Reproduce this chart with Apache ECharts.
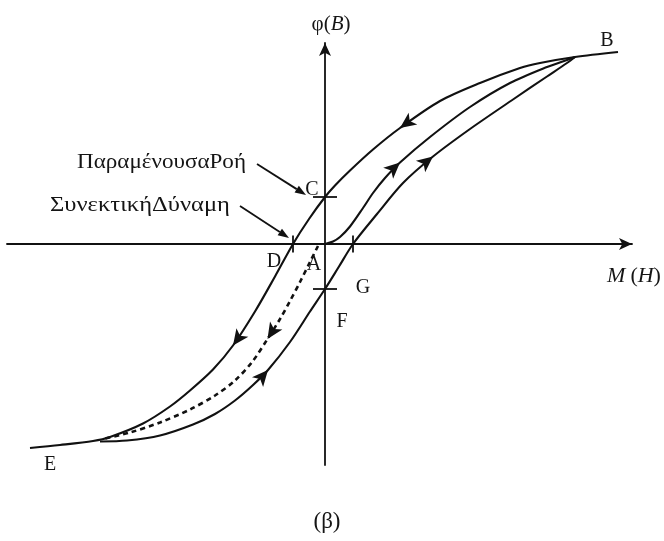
<!DOCTYPE html>
<html>
<head>
<meta charset="utf-8">
<script src="https://cdn.jsdelivr.net/npm/echarts@6/dist/echarts.min.js"></script>
<style>
  html, body { margin: 0; padding: 0; background: #fff; }
  #chart { width: 664px; height: 541px; }
</style>
</head>
<body>
<div id="chart"></div>
<script>
// Hysteresis loop: flux φ(B) against magnetising force M(H), arbitrary units.

// Upper (demagnetising) branch, from saturation B down to E
const descendingBranch = [
  [11.72, 7.68], [10.0, 7.48], [8.6, 7.24], [7.8, 7.04], [6.2, 6.44], [4.6, 5.72],
  [3.0, 4.64], [1.92, 3.78], [1.0, 2.94], [0.4, 2.34], [0, 1.88], [-0.64, 1.0],
  [-1.28, 0], [-2.0, -1.3], [-2.8, -2.7], [-3.68, -4.06], [-4.48, -5.02],
  [-5.4, -5.86], [-6.2, -6.5], [-7.28, -7.18], [-8.6, -7.72], [-9.28, -7.88],
  [-10.6, -8.04], [-11.8, -8.16]
];

// Lower (magnetising) branch, from E back up to B
const ascendingBranch = [
  [-9.0, -7.9], [-7.92, -7.86], [-6.6, -7.66], [-5.28, -7.22], [-4.4, -6.8],
  [-3.6, -6.26], [-2.9, -5.66], [-2.28, -5.04], [-1.4, -3.92], [-0.6, -2.7],
  [0, -1.8], [0.56, -0.9], [1.12, 0], [2.08, 1.2], [3.12, 2.44], [4.32, 3.5],
  [5.8, 4.6], [7.52, 5.78], [8.88, 6.7], [9.68, 7.24], [10.0, 7.48]
];

// Initial magnetisation curve, from A (origin) to B
const initialCurve = [
  [0, 0], [0.32, 0.1], [0.6, 0.28], [1.0, 0.7], [1.52, 1.44], [1.92, 2.04],
  [2.4, 2.64], [3.0, 3.26], [4.2, 4.28], [5.8, 5.48], [7.4, 6.44], [8.88, 7.08],
  [9.68, 7.36], [10.0, 7.48]
];

// Dashed curve from A down to E
const demagCurve = [
  [-0.28, -0.08], [-0.6, -0.72], [-1.0, -1.52], [-1.4, -2.28], [-1.8, -3.0],
  [-2.3, -3.8], [-2.9, -4.7], [-3.6, -5.46], [-4.4, -6.06], [-5.4, -6.62],
  [-6.6, -7.14], [-7.8, -7.54], [-8.88, -7.8]
];

// Direction arrows: which curve, and at which of its points
const arrowSpots = [
  ['descending', 6], ['descending', 15],
  ['ascending', 7], ['ascending', 15],
  ['initial', 7], ['demag', 5]
];

// Marked points on the axes: C (remanent flux), F, D (coercive force), G
const tickNames = ['C', 'F', 'D', 'G'];
const tickPoints = [[0, 1.88], [0, -1.8], [-1.28, 0], [1.12, 0]];
const tickKinds = ['h', 'h', 'v', 'v'];

const curves = {
  descending: descendingBranch,
  ascending: ascendingBranch,
  initial: initialCurve,
  demag: demagCurve
};

const INK = '#111111';
const TEXT = '#151515';
const SERIF = '"Liberation Serif", "DejaVu Serif", serif';

function arrowData() {
  return arrowSpots.map(function (s) {
    const c = curves[s[0]];
    const i = s[1];
    const a = c[i - 1], b = c[i + 1];
    const ang = Math.atan2(b[1] - a[1], b[0] - a[0]) * 180 / Math.PI;
    return { value: c[i], symbolRotate: ang - 90 };
  });
}

function tickData() {
  return tickPoints.map(function (p, k) {
    return {
      name: tickNames[k],
      value: p,
      symbolSize: tickKinds[k] === 'h' ? [24, 1.8] : [1.8, 17]
    };
  });
}

function curveSeries(name, data, dashed) {
  return {
    name: name,
    type: 'line',
    data: data,
    smooth: 0.3,
    showSymbol: false,
    silent: true,
    lineStyle: {
      color: INK,
      width: dashed ? 2.6 : 2.1,
      type: dashed ? [5, 4] : 'solid'
    },
    z: 3
  };
}

// Pointer line with a filled head, used for the two annotations
function pointer(x1, y1, x2, y2) {
  const ang = Math.atan2(y2 - y1, x2 - x1);
  const len = 11, half = 4;
  const bx = x2 - len * Math.cos(ang), by = y2 - len * Math.sin(ang);
  const nx = -Math.sin(ang) * half, ny = Math.cos(ang) * half;
  return [
    { type: 'line', shape: { x1: x1, y1: y1, x2: bx, y2: by },
      style: { stroke: INK, lineWidth: 1.8 } },
    { type: 'polygon', shape: { points: [[x2, y2], [bx + nx, by + ny], [bx - nx, by - ny]] },
      style: { fill: INK } }
  ];
}

function label(text, x, y, opts) {
  opts = opts || {};
  const el = {
    type: 'text',
    x: x, y: y,
    style: Object.assign({
      text: text,
      font: (opts.size || 20) + 'px ' + SERIF,
      fill: TEXT,
      align: 'center',
      verticalAlign: 'middle'
    }, opts.style || {})
  };
  if (opts.stretch) el.scaleX = opts.stretch;
  return el;
}

function richAxisName(text, x, y, size) {
  return label(text, x, y, { style: { rich: {
    n: { font: size + 'px ' + SERIF, fill: TEXT },
    i: { font: 'italic ' + size + 'px ' + SERIF, fill: TEXT } } } });
}

const chart = echarts.init(document.getElementById('chart'), null, { renderer: 'canvas' });

chart.setOption({
  backgroundColor: '#ffffff',
  animation: false,
  grid: { left: 7, right: 32, top: 43, bottom: 76 },
  xAxis: {
    type: 'value', min: -12.72, max: 12.28,
    axisLine: { onZero: true, symbol: ['none', 'arrow'], symbolSize: [9, 13],
      lineStyle: { color: INK, width: 1.8 } },
    axisTick: { show: false }, axisLabel: { show: false }, splitLine: { show: false }
  },
  yAxis: {
    type: 'value', min: -8.84, max: 8.04,
    axisLine: { onZero: true, symbol: ['none', 'arrow'], symbolSize: [9, 13],
      lineStyle: { color: INK, width: 1.8 } },
    axisTick: { show: false }, axisLabel: { show: false }, splitLine: { show: false }
  },
  series: [
    curveSeries('descending', descendingBranch, false),
    curveSeries('ascending', ascendingBranch, false),
    curveSeries('initial', initialCurve, false),
    curveSeries('demag', demagCurve, true),
    {
      name: 'arrows', type: 'scatter', data: arrowData(),
      symbol: 'arrow', symbolSize: [11, 16], silent: true,
      itemStyle: { color: INK, opacity: 1 }, z: 5
    },
    {
      name: 'ticks', type: 'scatter', data: tickData(),
      symbol: 'rect', silent: true,
      itemStyle: { color: INK, opacity: 1 }, z: 4
    }
  ],
  graphic: [
    richAxisName('{n|φ(}{i|B}{n|)}', 331, 24, 21),
    richAxisName('{i|M} {n|(}{i|H}{n|)}', 634, 276, 22),
    label('B', 607, 41),
    label('C', 312, 190),
    label('D', 274, 262),
    label('A', 314, 265),
    label('G', 363, 288),
    label('F', 342, 322),
    label('E', 50, 465),
    label('ΠαραμένουσαΡοή', 77, 162, { size: 21, stretch: 1.1, style: { align: 'left' } }),
    label('ΣυνεκτικήΔύναμη', 50, 205, { size: 21, stretch: 1.17, style: { align: 'left' } }),
    label('(β)', 327, 522, { size: 23 })
  ].concat(pointer(257, 164, 306, 195), pointer(240, 206, 289, 238))
});
</script>
</body>
</html>
